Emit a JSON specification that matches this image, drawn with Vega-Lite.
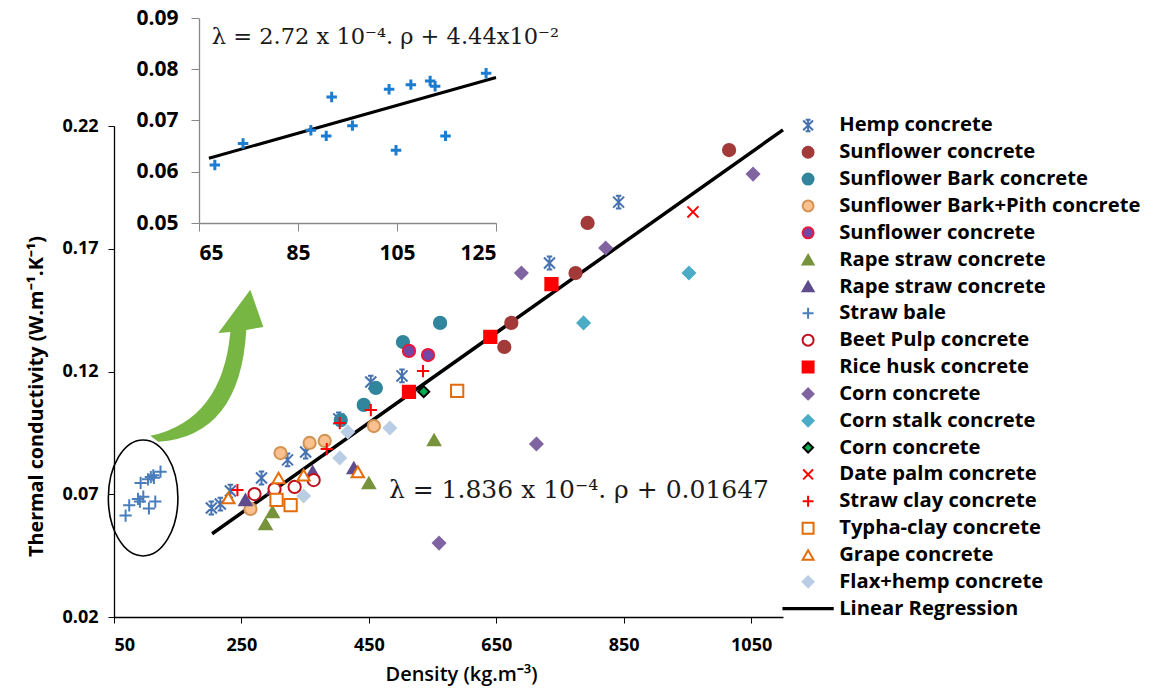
{
  "$schema": "https://vega.github.io/schema/vega-lite/v6.json",
  "width": 669,
  "height": 491,
  "autosize": {"type": "none"},
  "padding": {"left": 114, "top": 126, "right": 383, "bottom": 72},
  "background": "white",
  "config": {
    "view": {"stroke": null},
    "font": "Open Sans",
    "axis": {
      "grid": false,
      "labelFont": "Open Sans",
      "labelFontWeight": "bold",
      "labelFontSize": 18,
      "labelColor": "#000000",
      "titleFont": "Open Sans",
      "titleFontWeight": "bold",
      "titleFontSize": 19,
      "titleColor": "#000000"
    },
    "legend": {
      "padding": 0,
      "symbolFillColor": "#ffffff",
      "symbolStrokeWidth": 2,
      "symbolSize": 120,
      "labelFont": "Open Sans",
      "labelFontWeight": "bold",
      "labelFontSize": 20.2,
      "labelColor": "#000000",
      "labelLimit": 400,
      "labelOffset": 21,
      "rowPadding": 5.85
    }
  },
  "datasets": {
    "materials": [
      {"series": "Hemp concrete", "rho": 842, "lambda": 0.189},
      {"series": "Hemp concrete", "rho": 733.5, "lambda": 0.1642},
      {"series": "Hemp concrete", "rho": 502, "lambda": 0.1182},
      {"series": "Hemp concrete", "rho": 453, "lambda": 0.1157},
      {"series": "Hemp concrete", "rho": 402.8, "lambda": 0.1007},
      {"series": "Hemp concrete", "rho": 350.8, "lambda": 0.0872},
      {"series": "Hemp concrete", "rho": 322.4, "lambda": 0.084},
      {"series": "Hemp concrete", "rho": 281.5, "lambda": 0.0766},
      {"series": "Hemp concrete", "rho": 232.7, "lambda": 0.0713},
      {"series": "Hemp concrete", "rho": 216.9, "lambda": 0.066},
      {"series": "Hemp concrete", "rho": 202.8, "lambda": 0.0644},
      {"series": "Sunflower concrete", "rho": 1015.4, "lambda": 0.2102},
      {"series": "Sunflower concrete", "rho": 793.3, "lambda": 0.1805},
      {"series": "Sunflower concrete", "rho": 774.4, "lambda": 0.1601},
      {"series": "Sunflower concrete", "rho": 673.6, "lambda": 0.1398},
      {"series": "Sunflower concrete", "rho": 662.6, "lambda": 0.13},
      {"series": "Sunflower Bark concrete", "rho": 561.8, "lambda": 0.1398},
      {"series": "Sunflower Bark concrete", "rho": 503.5, "lambda": 0.132},
      {"series": "Sunflower Bark concrete", "rho": 461, "lambda": 0.1133},
      {"series": "Sunflower Bark concrete", "rho": 442, "lambda": 0.1064},
      {"series": "Sunflower Bark concrete", "rho": 405.9, "lambda": 0.1002},
      {"series": "Sunflower Bark+Pith concrete", "rho": 457.9, "lambda": 0.0978},
      {"series": "Sunflower Bark+Pith concrete", "rho": 380.7, "lambda": 0.0917},
      {"series": "Sunflower Bark+Pith concrete", "rho": 357, "lambda": 0.0909},
      {"series": "Sunflower Bark+Pith concrete", "rho": 311.4, "lambda": 0.0868},
      {"series": "Sunflower Bark+Pith concrete", "rho": 264.2, "lambda": 0.064},
      {"series": "Sunflower concrete (2)", "rho": 513, "lambda": 0.1284},
      {"series": "Sunflower concrete (2)", "rho": 542.9, "lambda": 0.1267},
      {"series": "Rape straw concrete", "rho": 552.4, "lambda": 0.0921},
      {"series": "Rape straw concrete", "rho": 450, "lambda": 0.0746},
      {"series": "Rape straw concrete", "rho": 287.8, "lambda": 0.0579},
      {"series": "Rape straw concrete", "rho": 298.8, "lambda": 0.0628},
      {"series": "Rape straw concrete (2)", "rho": 256.3, "lambda": 0.0677},
      {"series": "Rape straw concrete (2)", "rho": 361.8, "lambda": 0.0791},
      {"series": "Rape straw concrete (2)", "rho": 426.4, "lambda": 0.0807},
      {"series": "Rape straw concrete (2)", "rho": 300.4, "lambda": 0.0725},
      {"series": "Straw bale", "rho": 68.2, "lambda": 0.0613},
      {"series": "Straw bale", "rho": 73.9, "lambda": 0.0655},
      {"series": "Straw bale", "rho": 87.6, "lambda": 0.0681},
      {"series": "Straw bale", "rho": 90.7, "lambda": 0.067},
      {"series": "Straw bale", "rho": 91.8, "lambda": 0.0746},
      {"series": "Straw bale", "rho": 96, "lambda": 0.069},
      {"series": "Straw bale", "rho": 103.4, "lambda": 0.0761},
      {"series": "Straw bale", "rho": 104.8, "lambda": 0.0642},
      {"series": "Straw bale", "rho": 107.8, "lambda": 0.077},
      {"series": "Straw bale", "rho": 111.7, "lambda": 0.0777},
      {"series": "Straw bale", "rho": 112.7, "lambda": 0.0767},
      {"series": "Straw bale", "rho": 114.8, "lambda": 0.067},
      {"series": "Straw bale", "rho": 123, "lambda": 0.0792},
      {"series": "Beet Pulp concrete", "rho": 270.5, "lambda": 0.0701},
      {"series": "Beet Pulp concrete", "rho": 302, "lambda": 0.0721},
      {"series": "Beet Pulp concrete", "rho": 333.5, "lambda": 0.073},
      {"series": "Beet Pulp concrete", "rho": 363.4, "lambda": 0.0758},
      {"series": "Rice husk concrete", "rho": 736.6, "lambda": 0.1556},
      {"series": "Rice husk concrete", "rho": 640.6, "lambda": 0.1341},
      {"series": "Rice husk concrete", "rho": 513, "lambda": 0.1117},
      {"series": "Corn concrete", "rho": 1053, "lambda": 0.2004},
      {"series": "Corn concrete", "rho": 821.7, "lambda": 0.1703},
      {"series": "Corn concrete", "rho": 689.4, "lambda": 0.1601},
      {"series": "Corn concrete", "rho": 713, "lambda": 0.0905},
      {"series": "Corn concrete", "rho": 560.2, "lambda": 0.0501},
      {"series": "Corn stalk concrete", "rho": 952.4, "lambda": 0.1601},
      {"series": "Corn stalk concrete", "rho": 787, "lambda": 0.1398},
      {"series": "Corn concrete (2)", "rho": 536.1, "lambda": 0.1118},
      {"series": "Date palm concrete", "rho": 958.7, "lambda": 0.185},
      {"series": "Straw clay concrete", "rho": 535, "lambda": 0.1202},
      {"series": "Straw clay concrete", "rho": 453.1, "lambda": 0.1043},
      {"series": "Straw clay concrete", "rho": 404.3, "lambda": 0.099},
      {"series": "Straw clay concrete", "rho": 383.9, "lambda": 0.0884},
      {"series": "Straw clay concrete", "rho": 243.7, "lambda": 0.0717},
      {"series": "Typha-clay concrete", "rho": 588.6, "lambda": 0.1121},
      {"series": "Typha-clay concrete", "rho": 305.1, "lambda": 0.0677},
      {"series": "Typha-clay concrete", "rho": 327.2, "lambda": 0.0656},
      {"series": "Grape concrete", "rho": 432.7, "lambda": 0.0791},
      {"series": "Grape concrete", "rho": 308.3, "lambda": 0.0766},
      {"series": "Grape concrete", "rho": 347.6, "lambda": 0.0778},
      {"series": "Grape concrete", "rho": 229.5, "lambda": 0.0685},
      {"series": "Flax+hemp concrete", "rho": 483, "lambda": 0.097},
      {"series": "Flax+hemp concrete", "rho": 416.9, "lambda": 0.0954},
      {"series": "Flax+hemp concrete", "rho": 404.3, "lambda": 0.0848},
      {"series": "Flax+hemp concrete", "rho": 347.6, "lambda": 0.0693}
    ],
    "strawBale": [
      {"rho": 68.2, "lambda": 0.0613},
      {"rho": 73.9, "lambda": 0.0655},
      {"rho": 87.6, "lambda": 0.0681},
      {"rho": 90.7, "lambda": 0.067},
      {"rho": 91.8, "lambda": 0.0746},
      {"rho": 96, "lambda": 0.069},
      {"rho": 103.4, "lambda": 0.0761},
      {"rho": 104.8, "lambda": 0.0642},
      {"rho": 107.8, "lambda": 0.077},
      {"rho": 111.7, "lambda": 0.0777},
      {"rho": 112.7, "lambda": 0.0767},
      {"rho": 114.8, "lambda": 0.067},
      {"rho": 123, "lambda": 0.0792}
    ]
  },
  "layer": [
    {
      "encoding": {
        "x": {
          "field": "rho",
          "type": "quantitative",
          "scale": {"domain": [50, 1100], "nice": false, "zero": false},
          "axis": {
            "title": "Density (kg.m⁻³)",
            "titleFontWeight": 600,
            "titleFontSize": 20,
            "titleX": 347,
            "values": [50, 250, 450, 650, 850, 1050],
            "format": "d",
            "domainColor": "#000000",
            "domainWidth": 1.3,
            "tickColor": "#000000",
            "tickSize": 6,
            "labelPadding": 13,
            "titlePadding": 10
          }
        },
        "y": {
          "field": "lambda",
          "type": "quantitative",
          "scale": {"domain": [0.02, 0.22], "nice": false, "zero": false},
          "axis": {
            "title": "Thermal conductivity (W.m⁻¹.K⁻¹)",
            "titleFontSize": 19.8,
            "titleY": 270,
            "values": [0.02, 0.07, 0.12, 0.17, 0.22],
            "format": ".2f",
            "domainColor": "#000000",
            "domainWidth": 1.3,
            "tickColor": "#000000",
            "tickSize": 6,
            "labelPadding": 10,
            "titlePadding": 15
          }
        }
      },
      "layer": [
        {
          "data": {"values": [
            {"rho": 204, "lambda": 0.0539244},
            {"rho": 1100, "lambda": 0.21843}
          ]},
          "mark": {"type": "line", "color": "#000000", "strokeWidth": 3.5}
        },
        {
          "data": {"values": [{"rho": 95.7, "lambda": 0.0685}]},
          "mark": {
            "type": "point",
            "shape": "M -0.6 0 C -0.6 -0.552 -0.331 -1 0 -1 C 0.331 -1 0.6 -0.552 0.6 0 C 0.6 0.552 0.331 1 0 1 C -0.331 1 -0.6 0.552 -0.6 0 Z",
            "size": 13456,
            "filled": false,
            "stroke": "#000000",
            "strokeWidth": 1.6,
            "opacity": 1
          }
        },
        {
          "data": {"values": [{"rho": 194.9, "lambda": 0.1231}]},
          "mark": {
            "type": "point",
            "shape": "M -0.737 0.947 Q 0.211 0.737 0.316 -0.421 L 0.158 -0.408 L 0.579 -0.974 L 0.75 -0.487 L 0.526 -0.447 Q 0.447 0.947 -0.632 1.026 Z",
            "size": 23104,
            "filled": true,
            "fill": "#78B643",
            "strokeWidth": 0,
            "opacity": 1
          }
        },
        {
          "data": {"name": "materials"},
          "mark": {"type": "point", "size": 150, "strokeWidth": 2, "opacity": 1},
          "encoding": {
            "fill": {
              "field": "series",
              "type": "nominal",
              "scale": {
                "domain": ["Hemp concrete", "Sunflower concrete", "Sunflower Bark concrete", "Sunflower Bark+Pith concrete", "Sunflower concrete (2)", "Rape straw concrete", "Rape straw concrete (2)", "Straw bale", "Beet Pulp concrete", "Rice husk concrete", "Corn concrete", "Corn stalk concrete", "Corn concrete (2)", "Date palm concrete", "Straw clay concrete", "Typha-clay concrete", "Grape concrete", "Flax+hemp concrete", "Linear Regression"],
                "range": ["transparent", "#A33A3A", "#31859C", "#FAC08F", "#7446A6", "#77933C", "#5F4C8C", "transparent", "#FFFFFF", "#FF0000", "#8064A2", "#4BACC6", "#00B050", "transparent", "transparent", "#FFFFFF", "#FFFFFF", "#B9CDE5", "#000000"]
              },
              "legend": {"title": null, "orient": "none", "legendX": 684, "legendY": -10.7, "labelExpr": "replace(datum.label, ' (2)', '')"}
            },
            "stroke": {
              "field": "series",
              "type": "nominal",
              "scale": {
                "domain": ["Hemp concrete", "Sunflower concrete", "Sunflower Bark concrete", "Sunflower Bark+Pith concrete", "Sunflower concrete (2)", "Rape straw concrete", "Rape straw concrete (2)", "Straw bale", "Beet Pulp concrete", "Rice husk concrete", "Corn concrete", "Corn stalk concrete", "Corn concrete (2)", "Date palm concrete", "Straw clay concrete", "Typha-clay concrete", "Grape concrete", "Flax+hemp concrete", "Linear Regression"],
                "range": ["#4672B0", "#A33A3A", "#31859C", "#D39352", "#E8173C", "#77933C", "#5F4C8C", "#4A7EBB", "#C0101E", "#FF0000", "#8064A2", "#4BACC6", "#000000", "#FF0000", "#FF0000", "#E46C0A", "#E46C0A", "#B9CDE5", "#000000"]
              },
              "legend": {"title": null, "orient": "none", "legendX": 684, "legendY": -10.7, "labelExpr": "replace(datum.label, ' (2)', '')"}
            },
            "shape": {
              "field": "series",
              "type": "nominal",
              "scale": {
                "domain": ["Hemp concrete", "Sunflower concrete", "Sunflower Bark concrete", "Sunflower Bark+Pith concrete", "Sunflower concrete (2)", "Rape straw concrete", "Rape straw concrete (2)", "Straw bale", "Beet Pulp concrete", "Rice husk concrete", "Corn concrete", "Corn stalk concrete", "Corn concrete (2)", "Date palm concrete", "Straw clay concrete", "Typha-clay concrete", "Grape concrete", "Flax+hemp concrete", "Linear Regression"],
                "range": [
                  "M -0.9 -0.9 L 0.9 0.9 M -0.9 0.9 L 0.9 -0.9 M 0 -1.05 L 0 1.05 M -0.45 -1.05 L 0.45 -1.05 M -0.45 1.05 L 0.45 1.05",
                  "circle", "circle", "circle", "circle",
                  "triangle-up", "triangle-up",
                  "M -1 0 L 1 0 M 0 -1 L 0 1",
                  "circle",
                  "square",
                  "M 0 -1 L 1 0 L 0 1 L -1 0 Z",
                  "M 0 -1 L 1 0 L 0 1 L -1 0 Z",
                  "M 0 -0.9 L 0.9 0 L 0 0.9 L -0.9 0 Z",
                  "M -0.9 -0.9 L 0.9 0.9 M -0.9 0.9 L 0.9 -0.9",
                  "M -1 0 L 1 0 M 0 -1 L 0 1",
                  "square",
                  "triangle-up",
                  "M 0 -1 L 1 0 L 0 1 L -1 0 Z",
                  "M -4.5 -0.12 L 4.5 -0.12 L 4.5 0.12 L -4.5 0.12 Z"
                ]
              },
              "legend": {"title": null, "orient": "none", "legendX": 684, "legendY": -10.7, "labelExpr": "replace(datum.label, ' (2)', '')"}
            }
          }
        },
        {
          "data": {"values": [{"rho": 481.5, "lambda": 0.0717, "label": "λ = 1.836 x 10⁻⁴. ρ + 0.01647"}]},
          "mark": {"type": "text", "font": "DejaVu Serif", "fontSize": 25, "align": "left", "baseline": "middle", "color": "#1a1a1a"},
          "encoding": {"text": {"field": "label"}}
        }
      ]
    },
    {
      "encoding": {
        "x": {
          "field": "rho",
          "type": "quantitative",
          "scale": {"domain": [65, 125], "range": [85, 382], "nice": false, "zero": false},
          "axis": {
            "orient": "bottom",
            "offset": -394,
            "title": null,
            "values": [65, 85, 105, 125],
            "format": "d",
            "labelFontSize": 21,
            "domainColor": "#888888",
            "domainWidth": 1.3,
            "tickColor": "#888888",
            "tickSize": 8,
            "labelPadding": 11
          }
        },
        "y": {
          "field": "lambda",
          "type": "quantitative",
          "scale": {"domain": [0.05, 0.09], "range": [97, -108], "nice": false, "zero": false},
          "axis": {
            "orient": "left",
            "offset": -85,
            "title": null,
            "values": [0.05, 0.06, 0.07, 0.08, 0.09],
            "format": ".2f",
            "labelFontSize": 21,
            "domainColor": "#888888",
            "domainWidth": 1.3,
            "tickColor": "#888888",
            "tickSize": 8,
            "labelPadding": 13
          }
        }
      },
      "layer": [
        {
          "data": {"values": [
            {"rho": 67, "lambda": 0.062624},
            {"rho": 125, "lambda": 0.0784}
          ]},
          "mark": {"type": "line", "color": "#000000", "strokeWidth": 3}
        },
        {
          "data": {"name": "strawBale"},
          "mark": {"type": "point", "shape": "M -1 0 L 1 0 M 0 -1 L 0 1", "size": 110, "stroke": "#1C7CD0", "strokeWidth": 3, "filled": false, "opacity": 1}
        },
        {
          "data": {"values": [{"rho": 67.6, "lambda": 0.0863, "label": "λ = 2.72 x 10⁻⁴. ρ + 4.44x10⁻²"}]},
          "mark": {"type": "text", "font": "DejaVu Serif", "fontSize": 22.5, "align": "left", "baseline": "middle", "color": "#1a1a1a"},
          "encoding": {"text": {"field": "label"}}
        }
      ]
    }
  ],
  "resolve": {
    "scale": {"x": "independent", "y": "independent"},
    "axis": {"x": "independent", "y": "independent"}
  }
}
